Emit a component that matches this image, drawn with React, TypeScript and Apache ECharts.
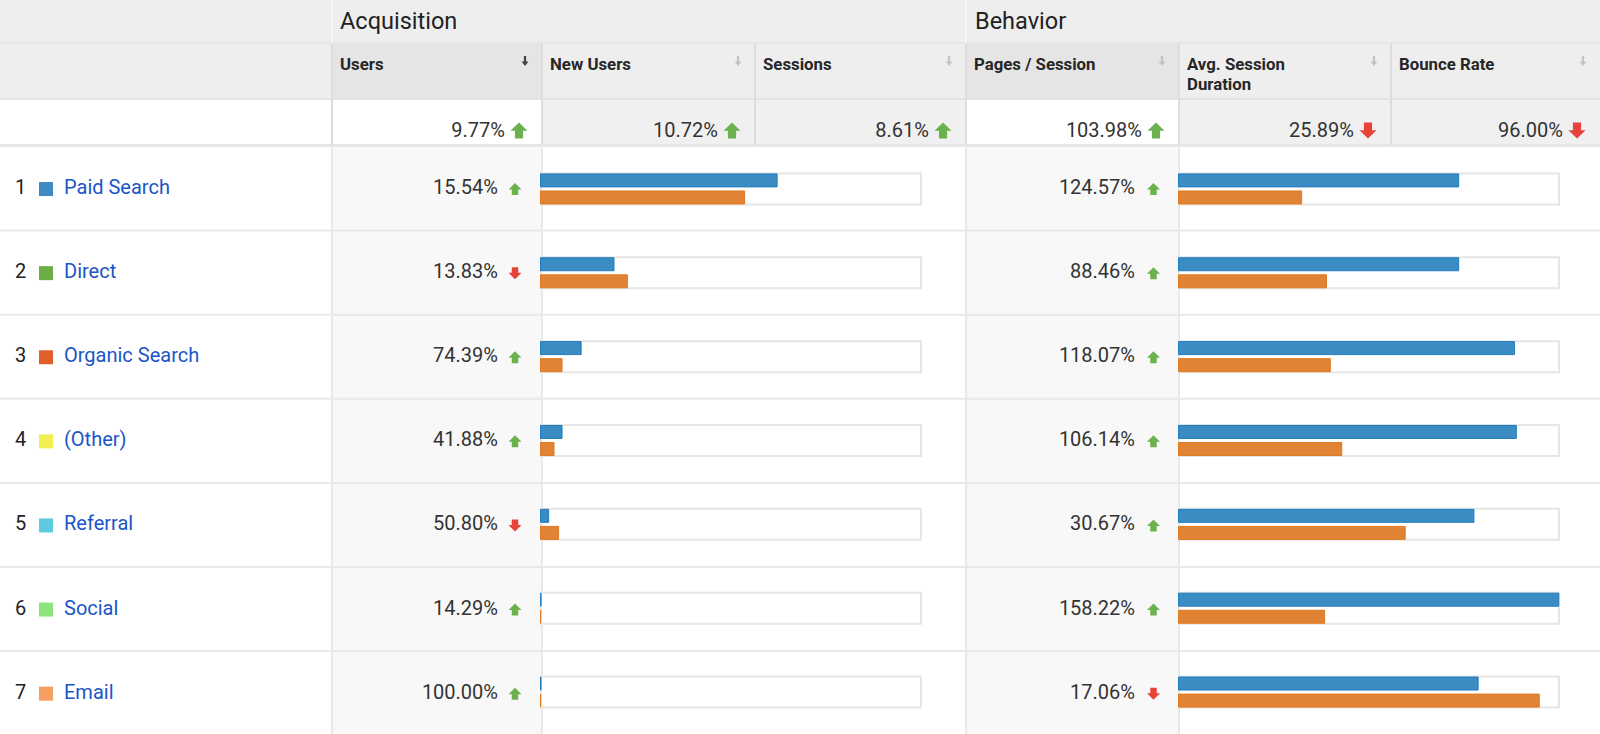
import React, { useEffect, useRef } from "react";
import * as echarts from "echarts";

// ---------- data ----------
const groupTitles = ["Acquisition", "Behavior"];
const columnHeaders = ["Users", "New Users", "Sessions", "Pages / Session", "Avg. Session\nDuration", "Bounce Rate"];
const sortedColumn = 0;
const summaryChanges = [9.77, 10.72, 8.61, 103.98, 25.89, 96.0];
const summaryUp = [true, true, true, true, false, false];

const channels = ["Paid Search", "Direct", "Organic Search", "(Other)", "Referral", "Social", "Email"];
const channelColors = ["#3d8ac4", "#6aae45", "#e0602c", "#f0ee50", "#5ccbe0", "#8be47c", "#f5a060"];

const usersChange = [15.54, 13.83, 74.39, 41.88, 50.8, 14.29, 100.0];
const usersUp = [true, false, true, true, false, true, true];
const pagesChange = [124.57, 88.46, 118.07, 106.14, 30.67, 158.22, 17.06];
const pagesUp = [true, true, true, true, true, true, false];

// bar lengths, % of the bar frame
const acqCurrent = [62.2, 19.5, 10.9, 5.9, 2.4, 0.4, 0.4];
const acqPrevious = [53.7, 23.0, 5.9, 3.8, 5.0, 0.3, 0.3];
const behCurrent = [73.6, 73.6, 88.2, 88.7, 77.6, 99.8, 78.7];
const behPrevious = [32.5, 39.0, 40.0, 43.0, 59.6, 38.5, 94.7];
const frameMax = 100;

// ---------- layout ----------
const W = 1600;
const H = 734;
const colEdges = [0, 332, 542, 755, 966, 1179, 1391, 1600];
const groupEdges = [332, 966, 1600];
const row1Bottom = 43;
const row2Bottom = 99;
const summaryBottom = 145;
const dataTop = 147;
const rowH = 84.1;
const FONT = "Roboto, 'Noto Sans', Arial, sans-serif";
const GREEN = "#6bb14d";
const RED = "#e8433a";
const TEXT = "#222222";

function arrowShape(cx: number, cy: number, w: number, h: number, up: boolean, color: string, headRatio = 0.55, stemRatio = 0.5) {
  const hh = h * headRatio;
  const sw = w * stemRatio;
  const t = cy - h / 2;
  const b = cy + h / 2;
  let pts: number[][];
  if (up) {
    pts = [
      [cx, t],
      [cx + w / 2, t + hh],
      [cx + sw / 2, t + hh],
      [cx + sw / 2, b],
      [cx - sw / 2, b],
      [cx - sw / 2, t + hh],
      [cx - w / 2, t + hh],
    ];
  } else {
    pts = [
      [cx, b],
      [cx + w / 2, b - hh],
      [cx + sw / 2, b - hh],
      [cx + sw / 2, t],
      [cx - sw / 2, t],
      [cx - sw / 2, b - hh],
      [cx - w / 2, b - hh],
    ];
  }
  return { type: "polygon", shape: { points: pts }, style: { fill: color }, silent: true };
}

function rect(x: number, y: number, w: number, h: number, fill: string) {
  return { type: "rect", shape: { x, y, width: w, height: h }, style: { fill }, silent: true };
}

function text(x: number, y: number, s: string, opts: any = {}) {
  return {
    type: "text",
    x,
    y,
    silent: true,
    style: {
      text: s,
      fontFamily: FONT,
      fontSize: opts.fontSize ?? 20,
      fontWeight: opts.fontWeight ?? "normal",
      fill: opts.fill ?? TEXT,
      align: opts.align ?? "left",
      verticalAlign: opts.verticalAlign ?? "middle",
    },
  };
}

function buildGraphics() {
  const g: any[] = [];
  // header row 1
  g.push(rect(0, 0, W, row1Bottom, "#eeeeee"));
  // header row 2
  g.push(rect(0, row1Bottom, W, row2Bottom - row1Bottom, "#eeeeee"));
  for (let c = 0; c < columnHeaders.length; c++) {
    const l = colEdges[c + 1];
    const r = colEdges[c + 2];
    const dark = c === sortedColumn || c === 3;
    if (dark) g.push(rect(l, row1Bottom, r - l, row2Bottom - row1Bottom, "#e5e5e5"));
  }
  // summary row
  g.push(rect(0, row2Bottom, W, summaryBottom - row2Bottom, "#ffffff"));
  for (let c = 0; c < columnHeaders.length; c++) {
    const l = colEdges[c + 1];
    const r = colEdges[c + 2];
    const white = c === 0 || c === 3;
    if (!white) g.push(rect(l, row2Bottom, r - l, summaryBottom - row2Bottom, "#f0f0f0"));
  }
  // data area
  g.push(rect(0, summaryBottom, W, H - summaryBottom, "#ffffff"));
  g.push(rect(colEdges[1], summaryBottom, colEdges[2] - colEdges[1], H - summaryBottom, "#f8f8f8"));
  g.push(rect(colEdges[4], summaryBottom, colEdges[5] - colEdges[4], H - summaryBottom, "#f8f8f8"));

  // horizontal lines
  g.push(rect(0, row1Bottom - 1, W, 2, "#e6e6e6"));
  g.push(rect(0, row2Bottom - 1, W, 2, "#e3e3e3"));
  g.push(rect(0, summaryBottom - 1, W, 3, "#e6e6e6"));
  for (let i = 1; i < channels.length; i++) {
    const y = dataTop + i * rowH;
    g.push(rect(0, y - 1.5, W, 2, "#e8e8e8"));
  }
  // vertical lines
  for (const x of groupEdges.slice(0, 2)) g.push(rect(x - 1, 0, 2, row1Bottom, "#f6f6f6"));
  for (let c = 1; c < colEdges.length - 1; c++) {
    const x = colEdges[c];
    g.push(rect(x - 1, row1Bottom, 2, summaryBottom - row1Bottom, "#dddddd"));
  }
  for (const x of [colEdges[1], colEdges[2], colEdges[4], colEdges[5]]) {
    g.push(rect(x - 1, summaryBottom, 2, H - summaryBottom, "#e9e9e9"));
  }

  // group titles
  g.push(text(groupEdges[0] + 8, 21, groupTitles[0], { fontSize: 23.5 }));
  g.push(text(groupEdges[1] + 9, 21, groupTitles[1], { fontSize: 23.5 }));

  // column headers + sort icons
  for (let c = 0; c < columnHeaders.length; c++) {
    const l = colEdges[c + 1];
    const r = colEdges[c + 2];
    const lines = columnHeaders[c].split("\n");
    lines.forEach((ln, k) => {
      g.push(text(l + 8, 63.5 + k * 20, ln, { fontSize: 16.8, fontWeight: "bold", fill: "#262626" }));
    });
    const col = c === sortedColumn ? "#444444" : "#c4c4c4";
    g.push(arrowShape(r - 17, 61, 7, 10, false, col, 0.45, 0.32));
  }

  // summary values
  for (let c = 0; c < summaryChanges.length; c++) {
    const r = colEdges[c + 2];
    const ax = r - 23;
    g.push(text(ax - 14, 130, summaryChanges[c].toFixed(2) + "%", { fontSize: 20, align: "right", fill: "#333" }));
    g.push(arrowShape(ax, 130.5, 17, 16, summaryUp[c], summaryUp[c] ? GREEN : RED, 0.52, 0.48));
  }

  // data rows
  channels.forEach((name, i) => {
    const cy = dataTop + i * rowH + rowH / 2;
    g.push(text(15, cy - 2, String(i + 1), { fontSize: 20, fill: TEXT }));
    g.push(rect(39, cy - 7, 14, 14, channelColors[i]));
    g.push(text(64, cy - 2, name, { fontSize: 20, fill: "#1a55c8" }));
    // users change
    g.push(text(498, cy - 2, usersChange[i].toFixed(2) + "%", { fontSize: 20, align: "right", fill: "#333" }));
    g.push(arrowShape(515, cy, 13, 12, usersUp[i], usersUp[i] ? GREEN : RED, 0.54, 0.5));
    // pages change
    g.push(text(1135, cy - 2, pagesChange[i].toFixed(2) + "%", { fontSize: 20, align: "right", fill: "#333" }));
    g.push(arrowShape(1153.5, cy, 13, 12, pagesUp[i], pagesUp[i] ? GREEN : RED, 0.54, 0.5));
  });
  return g;
}

function buildOption() {
  const gridH = rowH * channels.length;
  const grids = [
    { left: 540, top: dataTop, width: 382, height: gridH },
    { left: 1178, top: dataTop, width: 382, height: gridH },
  ];
  const xAxis = grids.map((_, i) => ({ gridIndex: i, type: "value", min: 0, max: frameMax, show: false }));
  const yAxis: any[] = [];
  grids.forEach((_, i) => {
    yAxis.push({ gridIndex: i, type: "category", data: channels, inverse: true, show: false });
    yAxis.push({ gridIndex: i, type: "category", data: channels, inverse: true, show: false });
  });
  const pairs = [
    [acqCurrent, acqPrevious],
    [behCurrent, behPrevious],
  ];
  const series: any[] = [];
  pairs.forEach((pair, i) => {
    series.push({
      type: "bar",
      name: "frame" + i,
      xAxisIndex: i,
      yAxisIndex: i * 2 + 1,
      data: channels.map(() => frameMax),
      barWidth: 33,
      silent: true,
      z: 1,
      itemStyle: { color: "#ffffff", borderColor: "#e6e6e6", borderWidth: 2 },
    });
    series.push({
      type: "bar",
      name: "current" + i,
      xAxisIndex: i,
      yAxisIndex: i * 2,
      data: pair[0],
      barWidth: 14,
      barGap: "22%",
      z: 3,
      itemStyle: { color: "#3c8cc4", borderColor: "#1f7dbf", borderWidth: 1 },
    });
    series.push({
      type: "bar",
      name: "previous" + i,
      xAxisIndex: i,
      yAxisIndex: i * 2,
      data: pair[1],
      barWidth: 14,
      barGap: "22%",
      z: 3,
      itemStyle: { color: "#e08335", borderColor: "#df7a1e", borderWidth: 1 },
    });
  });
  return {
    animation: false,
    backgroundColor: "#ffffff",
    grid: grids,
    xAxis,
    yAxis,
    series,
    graphic: { elements: buildGraphics() },
  };
}

export default function App() {
  const ref = useRef<HTMLDivElement>(null);
  useEffect(() => {
    document.body.style.margin = "0";
    if (!ref.current) return;
    const chart = echarts.init(ref.current, undefined, { renderer: "svg" });
    chart.setOption(buildOption() as any);
    return () => chart.dispose();
  }, []);
  return <div ref={ref} style={{ width: W, height: H }} />;
}
